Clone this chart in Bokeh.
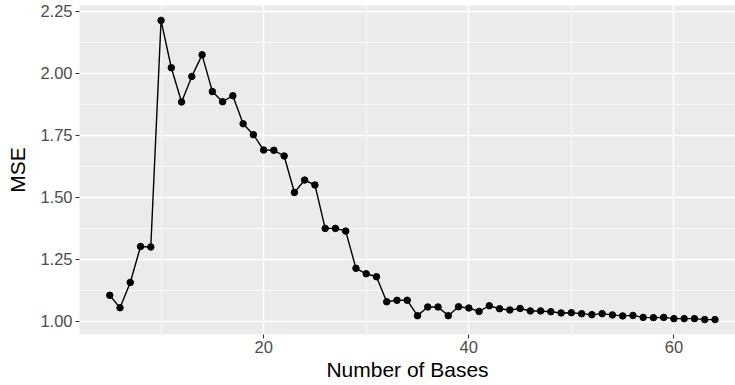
from bokeh.plotting import figure
from bokeh.models import Range1d, SingleIntervalTicker, NumeralTickFormatter
from bokeh.embed import file_html
from bokeh.resources import INLINE

# Number of bases (x) and mean squared error (y)
n_bases = list(range(5, 65))
mse = [
    1.105, 1.055, 1.157, 1.302, 1.300, 2.214, 2.023, 1.885, 1.988, 2.075,
    1.927, 1.886, 1.910, 1.797, 1.753, 1.691, 1.690, 1.667, 1.520, 1.570,
    1.550, 1.375, 1.375, 1.364, 1.214, 1.192, 1.180, 1.079, 1.085, 1.085,
    1.023, 1.058, 1.058, 1.023, 1.059, 1.054, 1.040, 1.063, 1.051, 1.046,
    1.052, 1.042, 1.042, 1.039, 1.034, 1.035, 1.031, 1.027, 1.031, 1.026,
    1.022, 1.024, 1.016, 1.015, 1.016, 1.011, 1.011, 1.011, 1.007, 1.007,
]
x_ticks_interval = 20
y_ticks_interval = 0.25

FONT = "Liberation Sans"

p = figure(
    width=735, height=385,
    output_backend="svg", toolbar_location=None,
    x_range=Range1d(2.05, 66.0), y_range=Range1d(0.947, 2.274),
    min_border_left=79, min_border_right=0, min_border_top=5, min_border_bottom=51,
    background_fill_color="#EBEBEB", border_fill_color="white",
)
p.outline_line_color = None

p.xaxis.ticker = SingleIntervalTicker(interval=x_ticks_interval, num_minor_ticks=2)
p.yaxis.ticker = SingleIntervalTicker(interval=y_ticks_interval, num_minor_ticks=2)
p.yaxis.formatter = NumeralTickFormatter(format="0.00")

for ax in (p.xaxis, p.yaxis):
    ax.axis_line_color = None
    ax.major_tick_line_color = "#333333"
    ax.major_tick_line_width = 1.1
    ax.major_tick_out = 4
    ax.major_tick_in = 0
    ax.minor_tick_line_color = None
    ax.major_label_text_color = "#4D4D4D"
    ax.major_label_text_font = FONT
    ax.major_label_text_font_size = "16.5px"
    ax.major_label_standoff = 3
    ax.axis_label_text_font = FONT
    ax.axis_label_text_font_size = "21px"
    ax.axis_label_text_font_style = "normal"
    ax.axis_label_text_color = "black"

p.xaxis.axis_label_standoff = 2
p.xaxis.major_label_standoff = 2
p.yaxis.axis_label_standoff = 8

p.xaxis.axis_label = "Number of Bases"
p.yaxis.axis_label = "MSE"

for g in (p.xgrid, p.ygrid):
    g.grid_line_color = "white"
    g.grid_line_width = 1.5
    g.minor_grid_line_color = "white"
    g.minor_grid_line_width = 0.75

p.line(n_bases, mse, line_color="black", line_width=1.4)
p.scatter(n_bases, mse, size=6.5, fill_color="black", line_color="black")

open("out.html", "w").write(file_html(p, INLINE))
